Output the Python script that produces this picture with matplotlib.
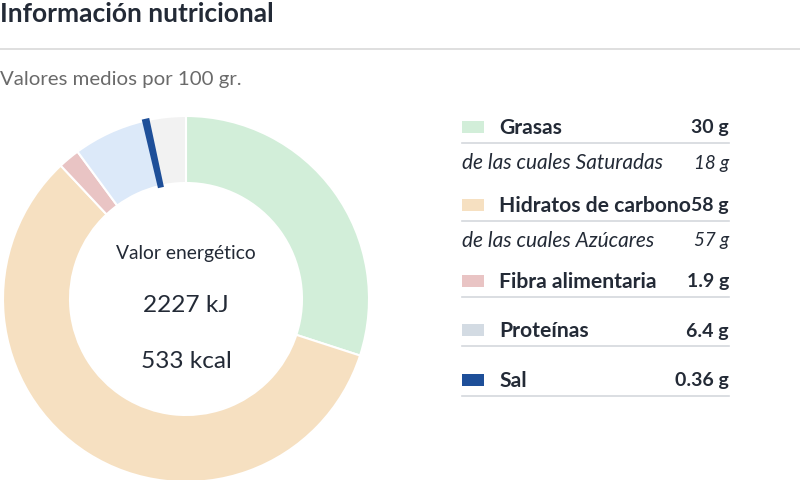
import matplotlib
matplotlib.use("Agg")
import matplotlib.pyplot as plt
from matplotlib.patches import Rectangle

# ---- data ----
categories = ["Grasas", "Hidratos de carbono", "Fibra alimentaria", "Proteínas", "Sal"]
values = [30, 58, 1.9, 6.4, 0.36]
value_labels = ["30 g", "58 g", "1.9 g", "6.4 g", "0.36 g"]
sub_labels = {0: ("de las cuales Saturadas", "18 g"), 1: ("de las cuales Azúcares", "57 g")}
energy_kj = "2227 kJ"
energy_kcal = "533 kcal"
total_ref = 100.0

slice_colors = ["#d2eed9", "#f6e0c1", "#e9c4c4", "#dce9f9", "#1e4f99"]
swatch_colors = ["#d2eed9", "#f6e0c1", "#e9c4c4", "#d3dbe3", "#1e4f99"]
rest_color = "#f2f2f2"

FONT = "Lato"
DARK = "#232a36"
W, H = 800, 481

fig = plt.figure(figsize=(W / 100, H / 100), dpi=100)
ax = fig.add_axes([0, 0, 1, 1])
ax.set_axis_off()

def Y(y):
    return H - y

# donut
vals = values + [total_ref - sum(values)]
cols = slice_colors + [rest_color]
R, r = 183, 116
wedges, _ = ax.pie(vals, colors=cols, startangle=90, counterclock=False, radius=R,
                   center=(186, Y(300)),
                   wedgeprops=dict(width=R - r, edgecolor="white", linewidth=1.5))
# salt wedge: outline in its own colour so the very thin slice stays visible
wedges[4].set_edgecolor(slice_colors[4])
wedges[4].set_linewidth(2.5)
wedges[4].set_zorder(5)
ax.set_xlim(0, W)
ax.set_ylim(0, H)
ax.set_aspect("auto")

# titles
ax.text(0, Y(14), "Información nutricional", fontsize=19, fontweight="bold",
        family=FONT, color=DARK, va="center", ha="left")
ax.plot([0, W], [Y(50), Y(50)], color="#d9d9d9", lw=1.2)
ax.text(0, Y(80), "Valores medios por 100 gr.", fontsize=14.7, family=FONT,
        color="#6a6a6a", va="center", ha="left")

# center text
ax.text(186, Y(253), "Valor energético", fontsize=13.9, family=FONT, color=DARK,
        ha="center", va="center")
ax.text(186, Y(306), energy_kj, fontsize=17.6, family=FONT, color=DARK,
        ha="center", va="center")
ax.text(186, Y(362), energy_kcal, fontsize=17.6, family=FONT, color=DARK,
        ha="center", va="center")

# legend table
row_y = [128, 206, 282, 331, 381]
sub_y = {0: 163, 1: 241}
x0, x1 = 462, 729
for i, cat in enumerate(categories):
    y = row_y[i]
    ax.add_patch(Rectangle((x0, Y(y) - 6), 22, 12, color=swatch_colors[i], lw=0))
    ax.text(499, Y(y), cat, fontsize=15.2, fontweight="bold", family=FONT,
            color=DARK, va="center", ha="left")
    ax.text(x1, Y(y), value_labels[i], fontsize=14, fontweight="bold", family=FONT,
            color=DARK, va="center", ha="right")
    ax.plot([x0, x1], [Y(y + 16), Y(y + 16)], color="#d4d8dd", lw=1.2)
    if i in sub_labels:
        lab, v = sub_labels[i]
        ys = sub_y[i]
        ax.text(x0, Y(ys), lab, fontsize=15, style="italic", family=FONT,
                color=DARK, va="center", ha="left")
        ax.text(x1, Y(ys), v, fontsize=13.5, style="italic", family=FONT,
                color=DARK, va="center", ha="right")

fig.savefig("out.png", dpi=100, facecolor="white")
